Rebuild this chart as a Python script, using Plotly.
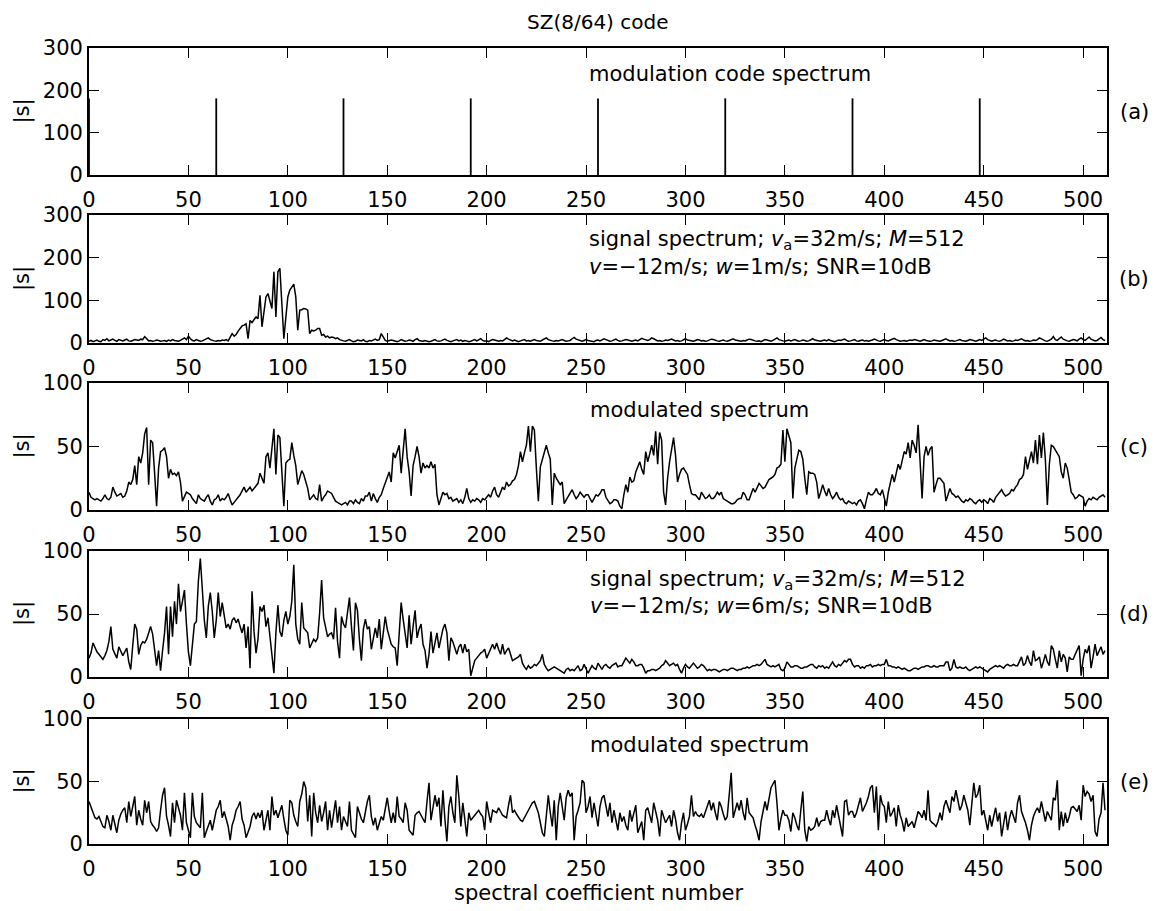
import numpy as np
import plotly.graph_objects as go
from plotly.subplots import make_subplots

# ---------------- data ----------------
# (a) spectrum of the SZ(8/64) modulation code: 8 lines spaced by 64 bins
code_bins = [0, 64, 128, 192, 256, 320, 384, 448]
code_mag = [181, 181, 181, 181, 181, 181, 181, 181]

# (b) signal spectrum, w = 1 m/s
sig_w1 = [
    4, 6, 3, 5, 7, 4, 3, 8, 6, 10, 5, 7, 9, 6, 4, 8,
    6, 5, 7, 9, 5, 4, 6, 8, 7, 6, 9, 8, 15, 9, 5, 6,
    4, 5, 7, 6, 4, 5, 6, 4, 7, 5, 8, 6, 5, 4, 6, 9,
    12, 8, 16, 10, 6, 5, 8, 6, 4, 5, 7, 10, 12, 8, 6, 5,
    4, 6, 5, 7, 6, 8, 5, 12, 22, 16, 20, 28, 34, 40, 42, 45,
    10, 53, 48, 55, 61, 57, 112, 38, 70, 108, 116, 100, 81, 167, 61, 167,
    175, 92, 10, 60, 108, 124, 130, 138, 108, 30, 77, 78, 81, 80, 77, 22,
    30, 28, 30, 34, 34, 18, 20, 14, 16, 12, 14, 13, 10, 12, 8, 6,
    5, 4, 6, 8, 5, 3, 4, 7, 6, 5, 8, 4, 3, 6, 5, 7,
    9, 6, 8, 22, 12, 6, 4, 5, 7, 6, 4, 3, 5, 8, 6, 4,
    5, 7, 6, 4, 8, 10, 6, 5, 4, 6, 5, 3, 4, 6, 8, 5,
    4, 5, 7, 9, 6, 4, 3, 5, 6, 8, 5, 7, 4, 6, 5, 3,
    4, 6, 8, 5, 7, 10, 6, 4, 5, 3, 6, 8, 7, 5, 4, 6,
    5, 8, 12, 9, 6, 5, 7, 4, 3, 5, 6, 8, 5, 6, 4, 7,
    8, 6, 5, 4, 7, 9, 12, 8, 6, 5, 4, 6, 5, 7, 8, 6,
    4, 5, 6, 10, 13, 9, 7, 5, 4, 6, 8, 6, 5, 4, 3, 6,
    7, 5, 8, 10, 8, 6, 4, 5, 7, 9, 6, 4, 5, 6, 8, 7,
    5, 4, 6, 7, 5, 8, 11, 9, 7, 6, 8, 12, 10, 7, 5, 6,
    4, 5, 7, 6, 8, 9, 7, 5, 6, 4, 5, 8, 10, 7, 6, 5,
    4, 6, 8, 7, 5, 6, 4, 5, 7, 9, 8, 6, 5, 4, 6, 7,
    5, 4, 6, 8, 10, 7, 6, 5, 4, 6, 5, 7, 9, 8, 6, 5,
    4, 5, 3, 6, 8, 7, 5, 4, 6, 9, 12, 8, 6, 5, 4, 6,
    7, 5, 6, 8, 6, 4, 5, 7, 6, 4, 5, 8, 10, 7, 6, 5,
    4, 6, 7, 5, 8, 6, 4, 3, 5, 7, 6, 8, 9, 6, 4, 5,
    6, 8, 5, 4, 6, 7, 5, 6, 4, 5, 7, 9, 6, 5, 4, 6,
    8, 6, 5, 7, 9, 11, 8, 6, 4, 5, 6, 4, 5, 7, 6, 8,
    7, 5, 4, 6, 8, 6, 5, 4, 5, 7, 6, 5, 4, 6, 8, 10,
    7, 5, 6, 4, 5, 7, 8, 6, 5, 4, 6, 8, 7, 5, 4, 6,
    8, 6, 9, 12, 8, 5, 4, 6, 7, 5, 4, 6, 9, 7, 5, 6,
    4, 5, 7, 6, 8, 10, 7, 5, 6, 4, 5, 7, 6, 8, 12, 9,
    6, 5, 4, 7, 9, 15, 8, 6, 10, 14, 9, 6, 5, 4, 6, 8,
    7, 5, 9, 12, 8, 6, 10, 14, 9, 7, 5, 6, 10, 13, 8, 6,
]

# (c) modulated spectrum, w = 1 m/s
mod_w1 = [
    14, 10, 9, 8, 9, 8, 7, 9, 12, 9, 8, 10, 18, 14, 11, 12,
    13, 10, 11, 15, 22, 20, 24, 35, 20, 42, 37, 45, 60, 65, 20, 55,
    53, 29, 3, 33, 46, 47, 49, 42, 25, 32, 28, 29, 27, 30, 22, 7,
    10, 14, 13, 12, 9, 7, 5, 12, 9, 8, 7, 10, 12, 7, 4, 8,
    9, 12, 7, 9, 8, 10, 13, 8, 4, 6, 8, 10, 12, 15, 18, 14,
    16, 18, 15, 17, 19, 21, 29, 25, 21, 42, 45, 33, 50, 64, 28, 59,
    57, 25, 3, 37, 39, 40, 53, 43, 35, 20, 26, 31, 28, 22, 17, 8,
    10, 12, 9, 8, 20, 7, 10, 12, 15, 14, 13, 10, 7, 6, 5, 4,
    5, 6, 4, 7, 7, 5, 8, 6, 5, 9, 7, 11, 11, 14, 7, 13,
    9, 6, 10, 12, 17, 21, 25, 30, 22, 45, 41, 46, 51, 29, 49, 64,
    42, 30, 11, 35, 42, 50, 42, 29, 37, 33, 35, 33, 38, 33, 36, 12,
    4, 10, 14, 12, 13, 9, 10, 7, 8, 9, 6, 8, 5, 10, 17, 9,
    6, 8, 7, 9, 8, 6, 9, 8, 10, 12, 10, 15, 18, 12, 10, 14,
    18, 16, 22, 19, 20, 23, 24, 28, 35, 46, 38, 45, 51, 66, 46, 66,
    63, 33, 7, 34, 40, 46, 51, 45, 40, 4, 29, 25, 22, 20, 22, 5,
    8, 11, 13, 16, 12, 9, 11, 14, 12, 10, 12, 12, 9, 6, 9, 12,
    11, 13, 16, 16, 10, 7, 5, 6, 8, 8, 7, 3, 1, 12, 20, 14,
    26, 22, 23, 30, 34, 38, 32, 28, 46, 38, 44, 51, 43, 62, 36, 61,
    55, 14, 4, 25, 38, 47, 57, 43, 22, 28, 32, 33, 30, 28, 20, 13,
    12, 12, 10, 8, 14, 11, 9, 10, 12, 9, 9, 11, 14, 12, 14, 9,
    8, 7, 6, 5, 5, 6, 8, 9, 9, 14, 12, 8, 8, 12, 17, 14,
    18, 21, 19, 17, 18, 21, 24, 25, 26, 28, 33, 34, 36, 63, 38, 64,
    58, 53, 9, 33, 40, 47, 46, 40, 25, 12, 30, 29, 29, 28, 22, 9,
    14, 20, 15, 11, 17, 12, 9, 11, 14, 10, 8, 9, 6, 5, 7, 6,
    5, 6, 4, 7, 8, 5, 1, 8, 14, 12, 12, 14, 17, 13, 12, 16,
    8, 3, 14, 20, 28, 22, 30, 36, 32, 38, 46, 44, 53, 41, 55, 51,
    45, 67, 36, 9, 42, 50, 43, 48, 50, 14, 20, 25, 25, 23, 21, 7,
    12, 17, 13, 12, 10, 11, 9, 7, 6, 8, 7, 9, 8, 6, 5, 7,
    8, 6, 8, 7, 5, 9, 8, 6, 10, 12, 14, 16, 13, 11, 12, 13,
    16, 15, 18, 20, 24, 25, 28, 42, 32, 40, 46, 37, 55, 36, 59, 41,
    61, 40, 4, 36, 51, 50, 47, 44, 42, 30, 25, 37, 33, 24, 14, 12,
    9, 10, 12, 11, 10, 3, 7, 9, 8, 10, 9, 8, 10, 11, 12, 10,
]

# (d) signal spectrum, w = 6 m/s
sig_w6 = [
    15, 19, 27, 23, 20, 18, 16, 14, 17, 21, 28, 40, 22, 18, 15, 24,
    20, 17, 20, 23, 12, 6, 25, 42, 38, 18, 25, 28, 27, 30, 35, 40,
    34, 20, 9, 21, 5, 21, 35, 56, 18, 56, 32, 60, 42, 74, 52, 60,
    69, 42, 20, 9, 28, 42, 44, 76, 94, 68, 45, 31, 56, 67, 52, 31,
    45, 67, 48, 59, 50, 39, 42, 38, 45, 47, 43, 46, 40, 35, 42, 23,
    40, 7, 68, 36, 19, 30, 56, 52, 57, 40, 47, 31, 18, 3, 35, 57,
    36, 32, 45, 52, 42, 48, 60, 89, 42, 30, 26, 59, 39, 37, 35, 23,
    27, 30, 28, 31, 51, 77, 47, 40, 32, 34, 35, 30, 55, 28, 15, 48,
    42, 39, 50, 63, 40, 21, 59, 53, 30, 13, 38, 46, 38, 40, 22, 30,
    39, 31, 46, 22, 35, 48, 38, 32, 26, 24, 23, 9, 34, 59, 46, 35,
    23, 49, 26, 40, 53, 31, 38, 42, 26, 21, 7, 18, 36, 19, 28, 35,
    23, 30, 38, 42, 35, 13, 31, 28, 22, 18, 24, 26, 19, 26, 20, 22,
    1, 8, 13, 15, 17, 19, 20, 22, 15, 19, 22, 26, 22, 27, 22, 18,
    26, 18, 21, 23, 18, 13, 14, 15, 16, 18, 11, 8, 6, 9, 7, 8,
    10, 9, 11, 13, 18, 10, 7, 5, 6, 7, 8, 7, 6, 5, 4, 3,
    6, 7, 5, 6, 5, 7, 9, 5, 6, 10, 7, 3, 6, 9, 7, 6,
    11, 8, 6, 9, 10, 8, 7, 9, 10, 11, 8, 9, 9, 12, 15, 13,
    11, 14, 12, 9, 9, 10, 10, 7, 3, 5, 5, 6, 6, 5, 6, 7,
    9, 10, 13, 11, 9, 10, 11, 9, 10, 6, 3, 7, 10, 8, 7, 9,
    11, 9, 7, 8, 10, 9, 7, 5, 6, 5, 6, 6, 5, 4, 5, 6,
    6, 5, 6, 7, 7, 6, 5, 6, 6, 7, 7, 8, 7, 8, 9, 9,
    10, 9, 10, 12, 14, 10, 9, 8, 9, 8, 9, 10, 6, 5, 7, 12,
    10, 8, 8, 9, 9, 8, 7, 7, 8, 8, 9, 10, 10, 8, 7, 9,
    8, 9, 7, 8, 7, 10, 12, 9, 8, 10, 9, 11, 13, 12, 14, 14,
    10, 8, 9, 9, 7, 8, 7, 9, 9, 10, 8, 9, 9, 10, 9, 10,
    10, 14, 9, 9, 8, 8, 7, 8, 7, 6, 7, 6, 5, 5, 6, 7,
    7, 6, 7, 8, 8, 9, 9, 8, 8, 9, 8, 8, 9, 9, 9, 12,
    12, 5, 7, 14, 8, 7, 8, 7, 7, 8, 6, 5, 6, 7, 8, 7,
    8, 7, 6, 5, 4, 6, 7, 8, 9, 8, 9, 8, 7, 9, 10, 9,
    9, 10, 9, 9, 12, 16, 9, 11, 17, 12, 9, 21, 13, 14, 16, 7,
    12, 18, 12, 9, 25, 22, 14, 7, 21, 12, 18, 15, 4, 16, 14, 14,
    18, 22, 25, 1, 14, 22, 19, 25, 7, 16, 26, 17, 20, 24, 18, 21,
]

# (e) modulated spectrum, w = 6 m/s
mod_w6 = [
    34, 30, 26, 21, 20, 22, 18, 14, 13, 23, 18, 11, 23, 17, 9, 19,
    24, 27, 29, 17, 34, 22, 30, 38, 15, 27, 20, 15, 35, 25, 34, 18,
    15, 13, 10, 13, 27, 39, 45, 22, 15, 6, 33, 17, 35, 28, 23, 11,
    41, 17, 10, 5, 41, 22, 17, 15, 13, 41, 5, 10, 14, 19, 11, 20,
    27, 30, 35, 21, 26, 20, 14, 3, 15, 20, 27, 30, 34, 20, 15, 5,
    10, 14, 22, 25, 20, 25, 21, 27, 11, 20, 27, 11, 38, 23, 27, 21,
    26, 31, 20, 11, 7, 35, 33, 23, 18, 14, 34, 40, 50, 45, 18, 39,
    6, 41, 25, 17, 31, 18, 25, 34, 11, 27, 13, 24, 35, 17, 30, 11,
    22, 18, 14, 34, 11, 8, 5, 30, 25, 20, 17, 26, 34, 39, 22, 15,
    21, 11, 16, 22, 19, 27, 37, 26, 17, 25, 17, 38, 22, 20, 17, 33,
    27, 11, 9, 7, 23, 25, 26, 23, 21, 17, 34, 49, 19, 28, 39, 30,
    37, 14, 43, 20, 2, 30, 38, 25, 17, 55, 38, 14, 33, 20, 6, 25,
    19, 21, 23, 25, 27, 24, 22, 11, 34, 25, 17, 27, 26, 25, 29, 26,
    23, 22, 21, 31, 39, 25, 27, 24, 21, 19, 18, 21, 23, 27, 30, 33,
    34, 29, 25, 17, 9, 6, 26, 39, 25, 14, 35, 3, 30, 41, 30, 19,
    37, 43, 38, 41, 3, 22, 27, 33, 51, 49, 25, 30, 38, 21, 33, 25,
    14, 30, 37, 39, 30, 22, 33, 17, 27, 20, 11, 25, 18, 22, 15, 11,
    27, 18, 25, 31, 9, 14, 18, 3, 27, 29, 22, 17, 33, 25, 19, 6,
    27, 22, 17, 20, 23, 14, 27, 20, 9, 3, 17, 25, 11, 16, 22, 39,
    22, 26, 23, 22, 24, 21, 26, 30, 35, 27, 33, 25, 19, 34, 30, 24,
    19, 22, 38, 57, 21, 28, 33, 27, 35, 25, 19, 37, 25, 23, 21, 15,
    10, 3, 18, 26, 34, 27, 35, 45, 48, 51, 33, 11, 20, 27, 23, 23,
    19, 10, 25, 21, 15, 11, 27, 42, 11, 2, 14, 11, 12, 14, 21, 14,
    18, 19, 19, 27, 20, 15, 27, 21, 31, 22, 14, 6, 34, 35, 23, 26,
    26, 21, 25, 30, 37, 26, 29, 33, 38, 45, 47, 25, 46, 11, 39, 32,
    30, 17, 34, 22, 25, 29, 14, 31, 23, 18, 10, 21, 14, 16, 18, 13,
    21, 26, 24, 21, 27, 19, 43, 19, 17, 16, 14, 18, 25, 19, 30, 35,
    30, 25, 38, 34, 43, 35, 27, 31, 39, 33, 27, 15, 30, 49, 37, 40,
    47, 23, 27, 20, 11, 23, 14, 22, 29, 18, 25, 6, 17, 26, 11, 21,
    27, 22, 17, 33, 39, 26, 22, 17, 11, 3, 15, 22, 26, 29, 25, 34,
    26, 18, 26, 22, 19, 37, 35, 51, 11, 26, 14, 25, 17, 22, 29, 30,
    28, 26, 31, 19, 47, 38, 42, 40, 34, 39, 10, 6, 20, 25, 49, 27,
]

n_coef = 512
x_tick_vals = [0, 50, 100, 150, 200, 250, 300, 350, 400, 450, 500]
y_ticks_wide = [0, 100, 200, 300]
y_ticks_narrow = [0, 50, 100]
panel_tags = ["(a)", "(b)", "(c)", "(d)", "(e)"]

for s in (sig_w1, mod_w1, sig_w6, mod_w6):
    assert len(s) == n_coef, len(s)

coef = np.arange(n_coef)

# ---------------- layout geometry (pixels) ----------------
W, H = 1163, 911
ML, MR, MT, MB = 89, 56, 48, 67
PW, PH = W - ML - MR, H - MT - MB
panel_px = [(48, 175), (215, 343), (383, 510), (551, 677), (719, 844)]


def fx(px):
    return (px - ML) / PW


def fy(py):
    return (H - MB - py) / PH


FONT = "DejaVu Sans"
FS = 21

fig = make_subplots(rows=5, cols=1)

# (a) code spectrum drawn as stems
stem_x, stem_y = [], []
for k, m in zip(code_bins, code_mag):
    stem_x += [k, k, None]
    stem_y += [0, m, None]
fig.add_trace(go.Scatter(x=stem_x, y=stem_y, mode="lines",
                         line=dict(color="black", width=1.8)), row=1, col=1)

for r, series in zip([2, 3, 4, 5], [sig_w1, mod_w1, sig_w6, mod_w6]):
    fig.add_trace(go.Scatter(x=coef, y=series, mode="lines",
                             line=dict(color="black", width=1.5)), row=r, col=1)

axis_common = dict(
    showline=True, linecolor="black", linewidth=1.8, mirror="ticks",
    ticks="inside", ticklen=10, tickwidth=1.4, tickcolor="black",
    showgrid=False, zeroline=False,
    tickfont=dict(family=FONT, size=FS, color="black"),
)

for i, (top, bot) in enumerate(panel_px):
    r = i + 1
    fig.update_yaxes(domain=[fy(bot), fy(top)], row=r, col=1, **axis_common)
    fig.update_xaxes(range=[0, n_coef], tickvals=x_tick_vals, row=r, col=1,
                     ticklabelstandoff=5, **axis_common)
    if i < 2:
        fig.update_yaxes(range=[0, 300], tickvals=y_ticks_wide, row=r, col=1)
    else:
        fig.update_yaxes(range=[0, 100], tickvals=y_ticks_narrow, row=r, col=1)

ann = []


def text(x_px, y_px, s, anchor="left", angle=0, size=FS):
    ann.append(dict(x=fx(x_px), y=fy(y_px), xref="paper", yref="paper",
                    text=s, showarrow=False, xanchor=anchor, yanchor="middle",
                    textangle=angle,
                    font=dict(family=FONT, size=size, color="black")))


text(598, 22, "SZ(8/64) code", anchor="center", size=20)
text(598, 893, "spectral coefficient number", anchor="center")

for i, (top, bot) in enumerate(panel_px):
    mid = (top + bot) / 2
    text(22, mid, "|s|", anchor="center", angle=-90)
    text(1134, mid, panel_tags[i], anchor="center")

text(587, 74, "modulation code spectrum")
text(587, 240, "signal spectrum; <i>v</i><sub>a</sub>=32m/s; <i>M</i>=512")
text(587, 267, "<i>v</i>=\u221212m/s; <i>w</i>=1m/s; SNR=10dB")
text(588, 410, "modulated spectrum")
text(588, 580, "signal spectrum; <i>v</i><sub>a</sub>=32m/s; <i>M</i>=512")
text(588, 606, "<i>v</i>=\u221212m/s; <i>w</i>=6m/s; SNR=10dB")
text(588, 745, "modulated spectrum")

fig.update_layout(
    width=W, height=H,
    margin=dict(l=ML, r=MR, t=MT, b=MB, pad=0),
    paper_bgcolor="white", plot_bgcolor="white",
    showlegend=False,
    annotations=ann,
    font=dict(family=FONT, size=FS, color="black"),
)

fig.write_html("out.html")
